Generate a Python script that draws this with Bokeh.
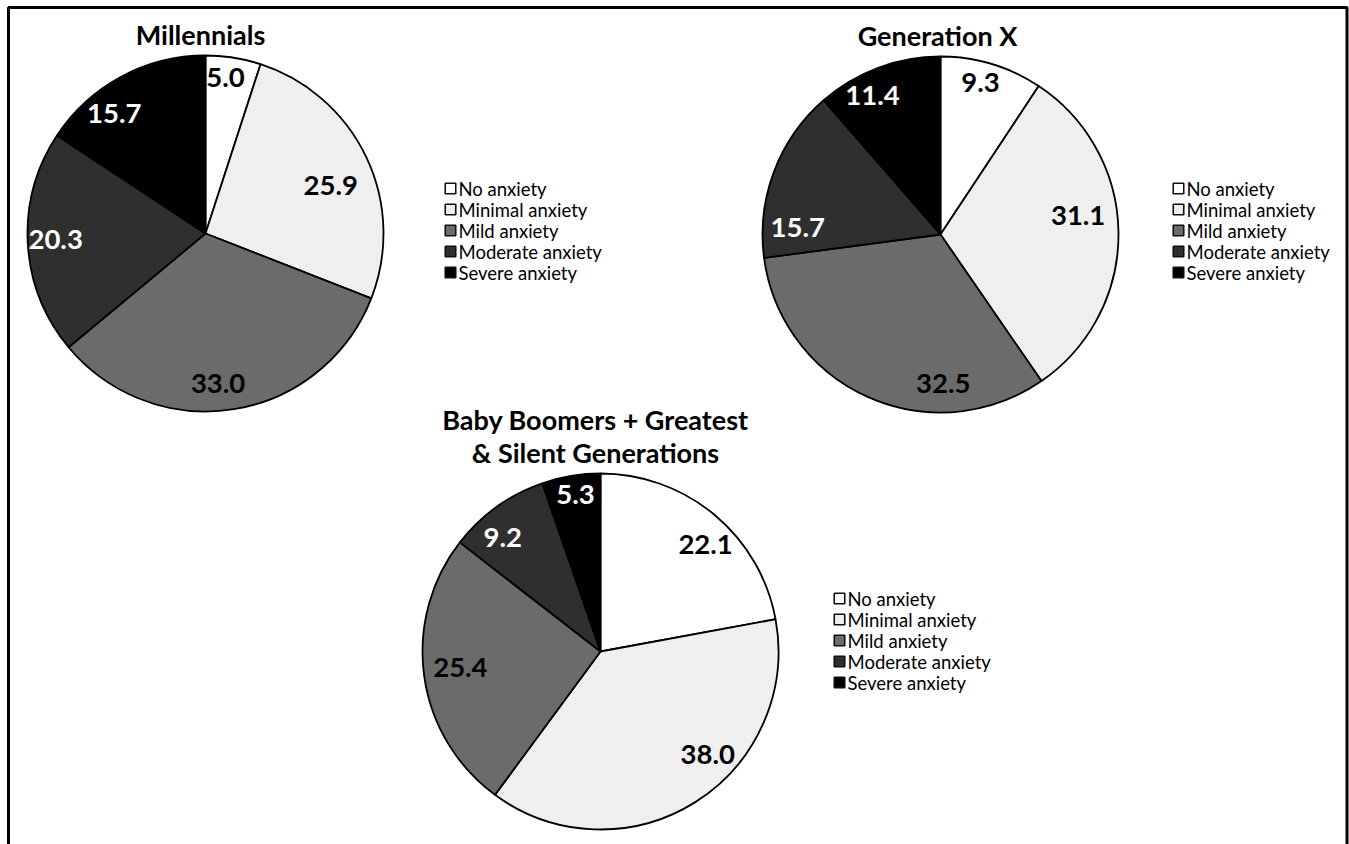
import math
from bokeh.plotting import figure
from bokeh.models import Range1d, ColumnDataSource
from bokeh.core.properties import value
from bokeh.embed import file_html
from bokeh.resources import INLINE

# ---------------- data ----------------
CATEGORIES = ["No anxiety", "Minimal anxiety", "Mild anxiety", "Moderate anxiety", "Severe anxiety"]
MILLENNIALS = [5.0, 25.9, 33.0, 20.3, 15.7]
GENERATION_X = [9.3, 31.1, 32.5, 15.7, 11.4]
BOOMERS_PLUS = [22.1, 38.0, 25.4, 9.2, 5.3]
TITLE_MILLENNIALS = ["Millennials"]
TITLE_GEN_X = ["Generation X"]
TITLE_BOOMERS = ["Baby Boomers + Greatest", "& Silent Generations"]

# ---------------- style / layout ----------------
FILLS = ["#ffffff", "#efefef", "#6b6b6b", "#2f2f2f", "#000000"]
LABEL_COLORS = ["#000000", "#000000", "#000000", "#ffffff", "#ffffff"]
FONT = "Lato"
W, H = 1349, 844
R = 178

def Y(py):
    return H - py

p = figure(width=W, height=H, output_backend="svg", toolbar_location=None,
           x_range=Range1d(0, W), y_range=Range1d(0, H),
           min_border=0, outline_line_color=None)
p.axis.visible = False
p.xgrid.visible = False
p.ygrid.visible = False
p.background_fill_color = "white"
p.border_fill_color = "white"

# frame border (left, top, right)
p.line(x=[8, 8, 1346.5, 1346.5], y=[Y(900), Y(7), Y(7), Y(900)], line_color="black", line_width=3)

pies = [
    dict(values=MILLENNIALS, title=TITLE_MILLENNIALS, cx=205, cy=233, title_x=200, title_y=[34],
         legend_x=450, legend_y=188,
         lab=[(-1.7, 157), (4.4, 134), (4.4, 151), (0.7, 150), (-8.9, 151)]),
    dict(values=GENERATION_X, title=TITLE_GEN_X, cx=940, cy=234, title_x=937, title_y=[35],
         legend_x=1178, legend_y=188,
         lab=[(-2.0, 157), (-7.5, 139), (-25.0, 149), (-17.7, 143), (-5.5, 155)]),
    dict(values=BOOMERS_PLUS, title=TITLE_BOOMERS, cx=600, cy=651, title_x=595, title_y=[419, 452],
         legend_x=839, legend_y=598,
         lab=[(4.7, 150), (-14.0, 149), (1.5, 141), (-5.0, 150), (0.5, 159)]),
]

for pie in pies:
    vals = pie["values"]
    total = sum(vals)
    cum = 0.0
    starts, ends, lx, ly, texts = [], [], [], [], []
    for i, v in enumerate(vals):
        a0 = cum / total
        a1 = (cum + v) / total
        cum += v
        starts.append(math.pi / 2 - 2 * math.pi * a0)
        ends.append(math.pi / 2 - 2 * math.pi * a1)
        mid_deg = (a0 + a1) / 2 * 360 + pie["lab"][i][0]
        r = pie["lab"][i][1]
        lx.append(pie["cx"] + r * math.sin(math.radians(mid_deg)))
        ly.append(Y(pie["cy"] - r * math.cos(math.radians(mid_deg))))
        texts.append(f"{v:.1f}")
    src = ColumnDataSource(dict(start=starts, end=ends, fill=FILLS))
    p.wedge(x=pie["cx"], y=Y(pie["cy"]), radius=R, start_angle="start", end_angle="end",
            direction="clock", fill_color="fill", line_color="black", line_width=1.8, source=src)
    lsrc = ColumnDataSource(dict(x=lx, y=ly, t=texts, c=LABEL_COLORS))
    p.text(x="x", y="y", text="t", text_color="c", text_font=value(FONT), text_font_style="bold",
           text_font_size="27.5px", text_align="center", text_baseline="middle", source=lsrc)
    # title
    p.text(x=[pie["title_x"]] * len(pie["title"]), y=[Y(t) for t in pie["title_y"]], text=pie["title"],
           text_font=value(FONT), text_font_style="bold", text_font_size="27px",
           text_align="center", text_baseline="middle", text_color="black")
    # legend
    rows = [Y(pie["legend_y"] + 21 * k) for k in range(len(CATEGORIES))]
    p.rect(x=[pie["legend_x"]] * len(CATEGORIES), y=rows, width=10.5, height=10.5,
           fill_color=FILLS, line_color="#111111", line_width=1.6)
    p.text(x=[pie["legend_x"] + 8] * len(CATEGORIES), y=rows, text=CATEGORIES,
           text_font=value(FONT), text_font_size="18.5px", text_align="left",
           text_baseline="middle", text_color="black")

open("out.html", "w").write(file_html(p, INLINE))
